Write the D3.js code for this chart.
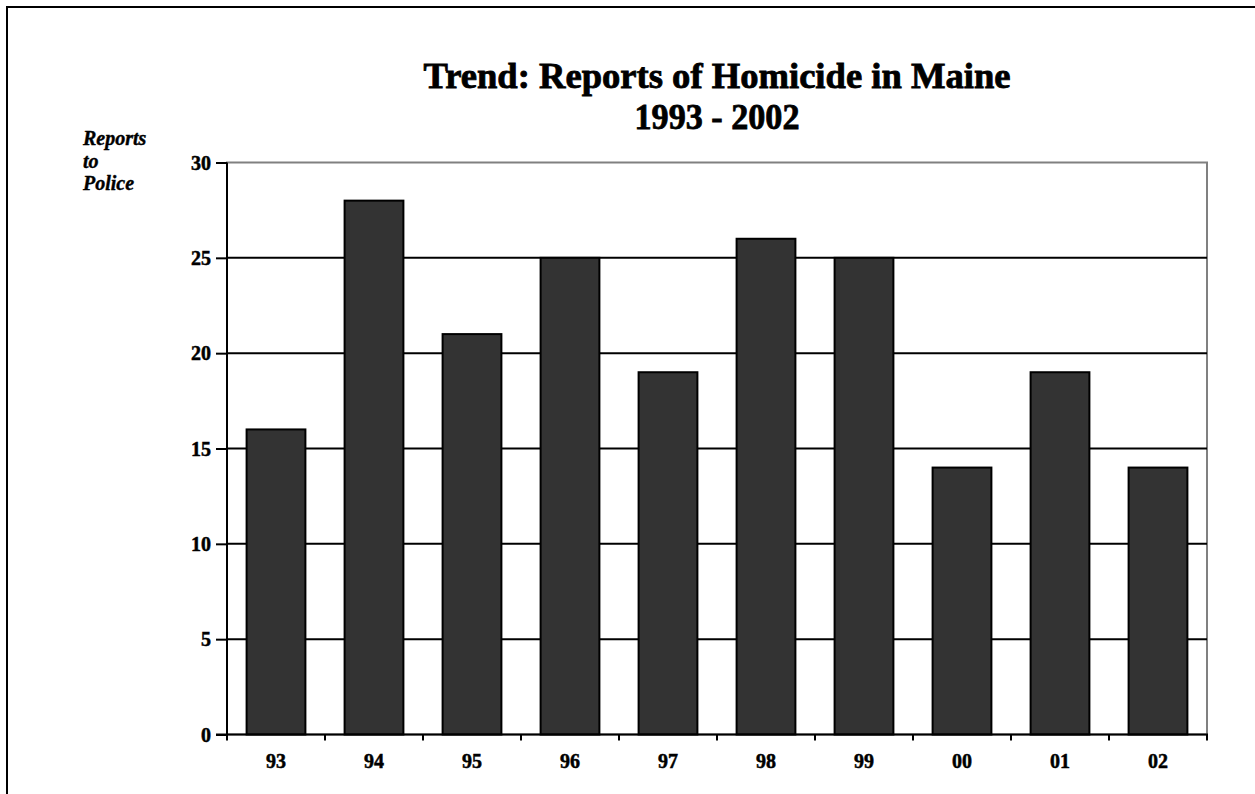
<!DOCTYPE html>
<head>
  <meta charset="utf-8">
  <script src="https://d3js.org/d3.v7.min.js"></script>
  <style>
    body { margin:0; background:#fff; }
    text { font-family: "Liberation Serif", serif; font-weight: bold; }
  </style>
</head>
<body>
<script>
  // data
  var years = ["93", "94", "95", "96", "97", "98", "99", "00", "01", "02"];
  var reports = [16, 28, 21, 25, 19, 26, 25, 14, 19, 14];
  var yTicks = [0, 5, 10, 15, 20, 25, 30];
  var titleLines = ["Trend: Reports of Homicide in Maine", "1993 - 2002"];
  var yLabelLines = ["Reports", "to", "Police"];

  var W = 1255, H = 794;
  var margin = {top: 162.5, right: 48, bottom: 59.5, left: 227},
    width = W - margin.left - margin.right,
    height = H - margin.top - margin.bottom;

  var svg = d3.select("body").append("svg")
    .attr("width", W)
    .attr("height", H);

  // outer frame (runs off the right and bottom edge)
  svg.append("rect")
    .attr("x", 7).attr("y", 7)
    .attr("width", W + 20).attr("height", H + 20)
    .attr("fill", "none")
    .attr("stroke", "#000")
    .attr("stroke-width", 2);

  var g = svg.append("g")
    .attr("transform", "translate(" + margin.left + "," + margin.top + ")");

  var x = d3.scaleBand().domain(years).range([0, width]).paddingInner(0.4).paddingOuter(0.2);
  var y = d3.scaleLinear().domain([0, 30]).range([height, 0]);

  // plot area border (grey)
  g.append("rect")
    .attr("x", 0).attr("y", 0)
    .attr("width", width).attr("height", height)
    .attr("fill", "none")
    .attr("stroke", "#808080")
    .attr("stroke-width", 2);

  // gridlines
  g.selectAll(".grid")
    .data(yTicks.filter(function(d) { return d > 0 && d < 30; }))
    .enter().append("line")
    .attr("x1", 0).attr("x2", width)
    .attr("y1", function(d) { return y(d); })
    .attr("y2", function(d) { return y(d); })
    .attr("stroke", "#000")
    .attr("stroke-width", 2);

  // bars
  g.selectAll(".bar")
    .data(reports)
    .enter().append("rect")
    .attr("x", function(d, i) { return x(years[i]); })
    .attr("y", function(d) { return y(d); })
    .attr("width", x.bandwidth())
    .attr("height", function(d) { return height - y(d); })
    .attr("fill", "#333333")
    .attr("stroke", "#000")
    .attr("stroke-width", 2);

  // y axis
  var yAxis = g.append("g")
    .call(d3.axisLeft(y).tickValues(yTicks).tickSize(11).tickPadding(5));
  yAxis.select(".domain").attr("stroke-width", 2).attr("d", "M0," + (height + 1) + "V0");
  yAxis.selectAll(".tick line").attr("stroke-width", 2);
  yAxis.selectAll("text")
    .attr("font-size", 20).attr("fill", "#000").attr("dy", "0.34em")
    .attr("font-family", "Liberation Serif")
    .attr("stroke", "#000").attr("stroke-width", 0.5);

  // x axis: ticks at band edges, labels at band centres
  var xg = g.append("g").attr("transform", "translate(0," + height + ")");
  xg.append("line")
    .attr("x1", -11).attr("x2", width + 1)
    .attr("stroke", "#000").attr("stroke-width", 2);
  var edges = d3.range(years.length + 1).map(function(i) { return i * width / years.length; });
  xg.selectAll(".xt")
    .data(edges)
    .enter().append("line")
    .attr("x1", function(d) { return d; }).attr("x2", function(d) { return d; })
    .attr("y1", 0).attr("y2", 6)
    .attr("stroke", "#000").attr("stroke-width", 2);
  xg.selectAll(".xl")
    .data(years)
    .enter().append("text")
    .attr("x", function(d) { return x(d) + x.bandwidth() / 2; })
    .attr("y", 33.5)
    .attr("text-anchor", "middle")
    .attr("font-size", 20)
    .attr("stroke", "#000").attr("stroke-width", 0.5)
    .text(function(d) { return d; });

  // title
  svg.selectAll(".title")
    .data(titleLines)
    .enter().append("text")
    .attr("x", margin.left + width / 2)
    .attr("y", function(d, i) { return 88 + i * 41; })
    .attr("text-anchor", "middle")
    .attr("font-size", 36)
    .attr("stroke", "#000").attr("stroke-width", 0.8)
    .attr("textLength", function(d, i) { return i === 0 ? 587 : 165; })
    .attr("lengthAdjust", "spacingAndGlyphs")
    .text(function(d) { return d; });

  // y label
  svg.selectAll(".ylab")
    .data(yLabelLines)
    .enter().append("text")
    .attr("x", 83)
    .attr("y", function(d, i) { return 145 + i * 22.5; })
    .attr("font-size", 20)
    .attr("font-style", "italic")
    .attr("stroke", "#000").attr("stroke-width", 0.4)
    .text(function(d) { return d; });
</script>
</body>
